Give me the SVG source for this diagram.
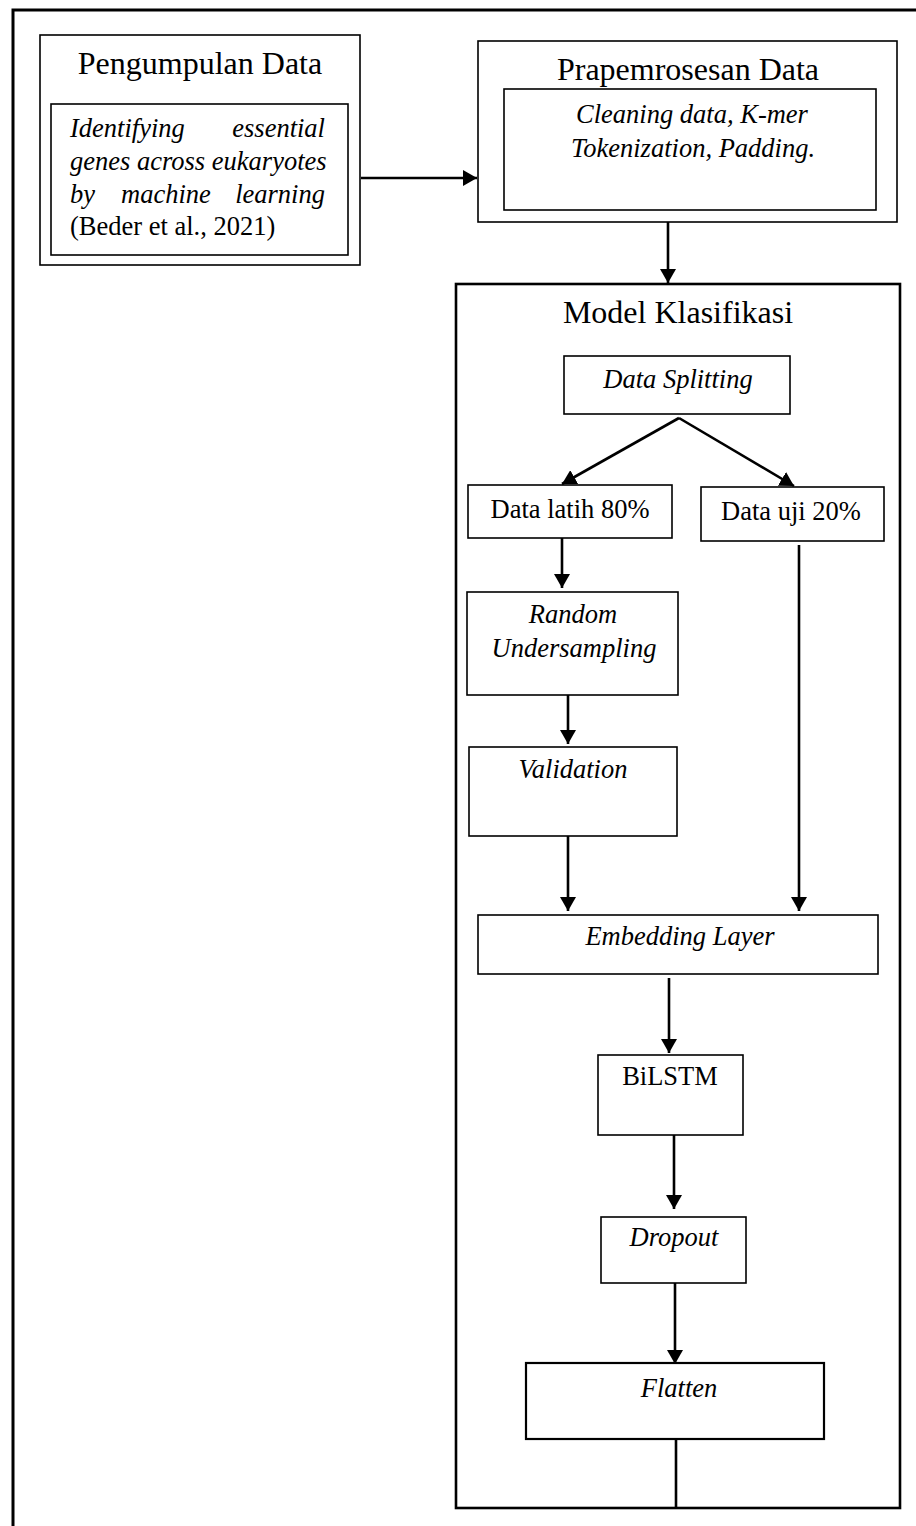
<svg xmlns="http://www.w3.org/2000/svg" width="916" height="1526" viewBox="0 0 916 1526">
<style>
text{font-family:"Liberation Serif","Times New Roman",serif;fill:#000}
.t{font-size:32px;text-anchor:middle}
.b{font-size:26.5px;text-anchor:middle}
.i{font-style:italic}
.box{fill:#fff;stroke:#000;stroke-width:1.6}
.c{stroke:#000;stroke-width:2.6;fill:none}
</style>
<defs>
<marker id="a" viewBox="0 0 14 16" refX="14" refY="8" markerWidth="14" markerHeight="16" orient="auto" markerUnits="userSpaceOnUse">
<path d="M0,0 L14,8 L0,16 Z" fill="#000"/>
</marker>
</defs>
<rect x="0" y="0" width="916" height="1526" fill="#fff"/>
<rect id="frame" x="13" y="10" width="930" height="1540" fill="none" stroke="#000" stroke-width="3"/>

<g id="pengumpulan">
<rect class="box" x="40" y="35" width="320" height="230"/>
<text class="t" x="200" y="74">Pengumpulan Data</text>
<rect class="box" x="51" y="104" width="297" height="151"/>
<text class="b i" x="70" y="137" style="text-anchor:start">Identifying</text>
<text class="b i" x="325" y="137" style="text-anchor:end">essential</text>
<text class="b i" x="70" y="170" style="text-anchor:start">genes across eukaryotes</text>
<text class="b i" x="70" y="203" style="text-anchor:start">by</text>
<text class="b i" x="166" y="203">machine</text>
<text class="b i" x="325" y="203" style="text-anchor:end">learning</text>
<text class="b" x="70" y="235" style="text-anchor:start">(Beder et al., 2021)</text>
</g>

<g id="prapemrosesan">
<rect class="box" x="478" y="41" width="419" height="181"/>
<text class="t" x="688" y="80">Prapemrosesan Data</text>
<rect class="box" x="504" y="89" width="372" height="121"/>
<text class="b i" x="692" y="123">Cleaning data, K-mer</text>
<text class="b i" x="693" y="157">Tokenization, Padding.</text>
</g>

<g id="model">
<rect x="456" y="284" width="444" height="1224" fill="#fff" stroke="#000" stroke-width="2.6"/>
<text class="t" x="678" y="323">Model Klasifikasi</text>
</g>

<g id="splitting">
<rect class="box" x="564" y="356" width="226" height="58"/>
<text class="b i" x="678" y="388">Data Splitting</text>
</g>
<g id="latih">
<rect class="box" x="468" y="485" width="204" height="53"/>
<text class="b" x="570" y="518">Data latih 80%</text>
</g>
<g id="uji">
<rect class="box" x="701" y="487" width="183" height="54"/>
<text class="b" x="791" y="520">Data uji 20%</text>
</g>
<g id="random">
<rect class="box" x="467" y="592" width="211" height="103"/>
<text class="b i" x="573" y="623">Random</text>
<text class="b i" x="574" y="657">Undersampling</text>
</g>
<g id="validation">
<rect class="box" x="469" y="747" width="208" height="89"/>
<text class="b i" x="573" y="778">Validation</text>
</g>
<g id="embedding">
<rect class="box" x="478" y="915" width="400" height="59"/>
<text class="b i" x="680" y="945">Embedding Layer</text>
</g>
<g id="bilstm">
<rect class="box" x="598" y="1055" width="145" height="80"/>
<text class="b" x="670" y="1085">BiLSTM</text>
</g>
<g id="dropout">
<rect class="box" x="601" y="1217" width="145" height="66"/>
<text class="b i" x="674" y="1246">Dropout</text>
</g>
<g id="flatten">
<rect x="526" y="1363" width="298" height="76" fill="#fff" stroke="#000" stroke-width="2.2"/>
<text class="b i" x="679" y="1397">Flatten</text>
</g>

<g id="connectors">
<line class="c" x1="361" y1="178" x2="477" y2="178" marker-end="url(#a)"/>
<line class="c" x1="668" y1="222" x2="668" y2="283" marker-end="url(#a)"/>
<line class="c" x1="679" y1="418" x2="562" y2="484" marker-end="url(#a)"/>
<line class="c" x1="679" y1="418" x2="794" y2="486" marker-end="url(#a)"/>
<line class="c" x1="562" y1="538" x2="562" y2="588" marker-end="url(#a)"/>
<line class="c" x1="568" y1="695" x2="568" y2="744" marker-end="url(#a)"/>
<line class="c" x1="568" y1="836" x2="568" y2="911" marker-end="url(#a)"/>
<line class="c" x1="799" y1="545" x2="799" y2="911" marker-end="url(#a)"/>
<line class="c" x1="669" y1="978" x2="669" y2="1053" marker-end="url(#a)"/>
<line class="c" x1="674" y1="1135" x2="674" y2="1209" marker-end="url(#a)"/>
<line class="c" x1="675" y1="1283" x2="675" y2="1364" marker-end="url(#a)"/>
<line class="c" x1="676" y1="1439" x2="676" y2="1508"/>
</g>
</svg>
